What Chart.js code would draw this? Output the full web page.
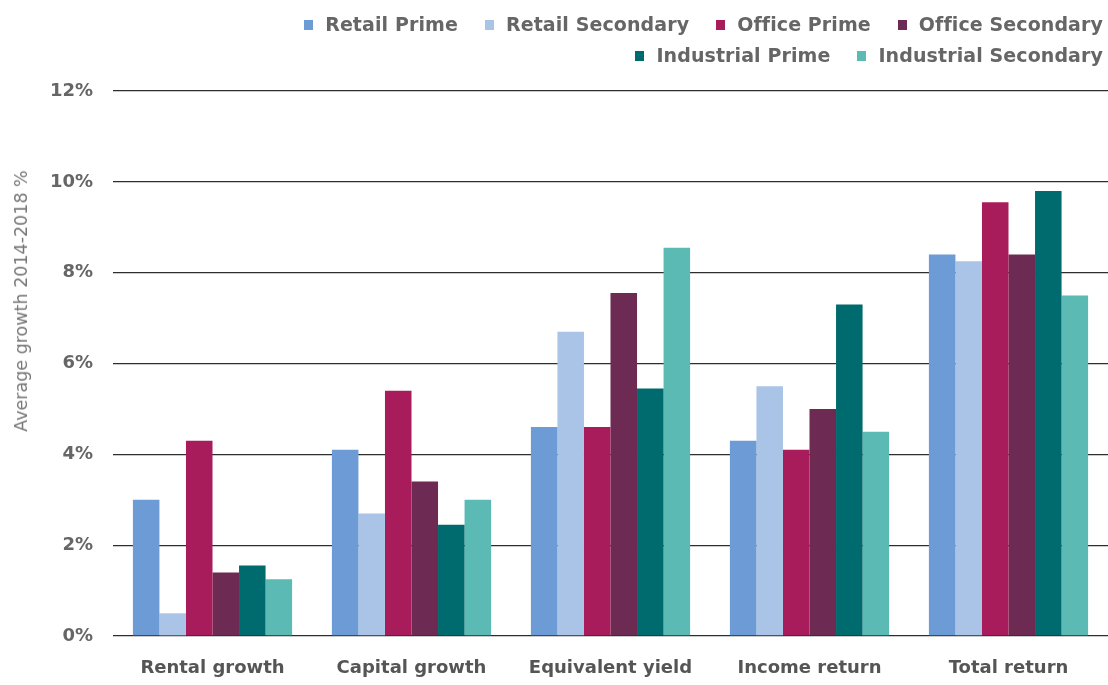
<!DOCTYPE html>
<html>
<head>
<meta charset="utf-8">
<script src="https://cdn.jsdelivr.net/npm/chart.js@4/dist/chart.umd.min.js"></script>
<style>
  html, body { margin: 0; padding: 0; background: #fff; }
  #wrap { position: relative; width: 1108px; height: 685px; }
  #legend { position: absolute; top: 9px; right: 5px; font: bold 19px "DejaVu Sans", sans-serif; color: #666; text-align: right; letter-spacing: 0.1px; }
  #legend .row { height: 31px; line-height: 31px; white-space: nowrap; }
  #legend .item { display: inline-block; margin-left: 27px; }
  #legend .box { display: inline-block; width: 9px; height: 10px; margin-right: 12px; vertical-align: 1px; }
  #ytitle { position: absolute; left: 21px; top: 301px; transform: translate(-50%, -50%) rotate(-90deg);
            font: 17.5px "DejaVu Sans", sans-serif; color: #777; white-space: nowrap; }
</style>
</head>
<body>
<div id="wrap">
  <canvas id="chart" width="1108" height="685"></canvas>
  <div id="legend"></div>
  <div id="ytitle">Average growth 2014-2018 %</div>
</div>
<script>
// categories and values (%)
const categories = ['Rental growth', 'Capital growth', 'Equivalent yield', 'Income return', 'Total return'];
const seriesNames = ['Retail Prime', 'Retail Secondary', 'Office Prime', 'Office Secondary', 'Industrial Prime', 'Industrial Secondary'];
const retailPrime = [3.0, 4.1, 4.6, 4.3, 8.4];
const retailSecondary = [0.5, 2.7, 6.7, 5.5, 8.25];
const officePrime = [4.3, 5.4, 4.6, 4.1, 9.55];
const officeSecondary = [1.4, 3.4, 7.55, 5.0, 8.4];
const industrialPrime = [1.55, 2.45, 5.45, 7.3, 9.8];
const industrialSecondary = [1.25, 3.0, 8.55, 4.5, 7.5];
const yTicks = [0, 2, 4, 6, 8, 10, 12];

const colors = ['#6c9bd6', '#a9c4e6', '#a81c5c', '#6d2a52', '#006b6e', '#5bbab4'];
const values = [retailPrime, retailSecondary, officePrime, officeSecondary, industrialPrime, industrialSecondary];

const datasets = seriesNames.map((name, i) => ({
  label: name,
  data: values[i],
  backgroundColor: colors[i],
  borderWidth: 0,
  categoryPercentage: 0.8,
  barPercentage: 1.0,
}));

// html legend, two rows aligned right
const legend = document.getElementById('legend');
[[0, 4], [4, 6]].forEach(([a, b]) => {
  const row = document.createElement('div');
  row.className = 'row';
  for (let i = a; i < b; i++) {
    const item = document.createElement('span');
    item.className = 'item';
    item.innerHTML = '<span class="box" style="background:' + colors[i] + '"></span>' + seriesNames[i];
    row.appendChild(item);
  }
  legend.appendChild(row);
});

const tickFont = { family: 'DejaVu Sans', size: 18, weight: 'bold' };

new Chart(document.getElementById('chart').getContext('2d'), {
  type: 'bar',
  data: { labels: categories, datasets },
  options: {
    responsive: false,
    animation: false,
    layout: { padding: { top: 91, right: 0, bottom: 7, left: 0 } },
    plugins: { legend: { display: false }, tooltip: { enabled: false } },
    scales: {
      x: {
        afterFit(scale) { scale.height = 42; },
        grid: { display: false, drawTicks: false },
        border: { display: false },
        ticks: { color: '#555', font: tickFont, padding: 22, maxRotation: 0 },
      },
      y: {
        min: 0,
        max: 12,
        afterFit(scale) { scale.width = 113; },
        afterBuildTicks(scale) { scale.ticks = yTicks.map(v => ({ value: v })); },
        grid: { color: '#2e2e2e', lineWidth: 1.3, drawTicks: false },
        border: { display: false },
        ticks: { color: '#666', font: tickFont, padding: 20, callback: v => v + '%' },
      },
    },
  },
});
</script>
</body>
</html>
